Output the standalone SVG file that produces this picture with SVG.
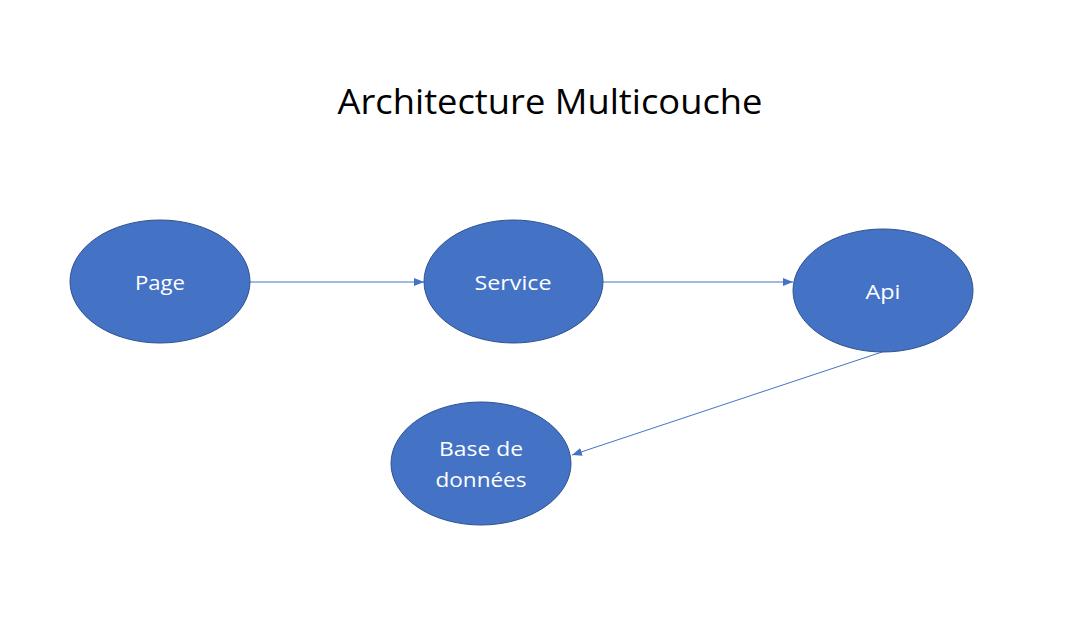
<svg xmlns="http://www.w3.org/2000/svg" width="1067" height="632" viewBox="0 0 1067 632">
<style>
.node ellipse{fill:#4472C4;stroke:#2F528F;stroke-width:1}
.node text{fill:#FFFFFF;font-family:"Open Sans","Liberation Sans",sans-serif;font-size:20px;text-anchor:middle}
.title{fill:#000000;font-family:"Open Sans","Liberation Sans",sans-serif;font-size:35px;text-anchor:middle}
.conn line{stroke:#4472C4;stroke-width:1;fill:none}
</style>
<defs>
<marker id="arrow" viewBox="0 0 10 8" refX="10" refY="4" markerWidth="10" markerHeight="8" markerUnits="userSpaceOnUse" orient="auto">
<path d="M0,0 L10,4 L0,8 Z" fill="#4472C4"/>
</marker>
</defs>
<rect width="1067" height="632" fill="#FFFFFF"/>
<text class="title" x="550" y="114" textLength="425" lengthAdjust="spacingAndGlyphs">Architecture Multicouche</text>
<g class="conn">
<line x1="250" y1="282" x2="424" y2="282" marker-end="url(#arrow)"/>
<line x1="603" y1="282" x2="793" y2="282" marker-end="url(#arrow)"/>
<line x1="882" y1="352" x2="572" y2="455" marker-end="url(#arrow)"/>
</g>
<g id="page" class="node">
<ellipse cx="160" cy="281.5" rx="90" ry="61.5"/>
<text x="160" y="290" textLength="50" lengthAdjust="spacingAndGlyphs">Page</text>
</g>
<g id="service" class="node">
<ellipse cx="513.5" cy="281.5" rx="89.5" ry="61.5"/>
<text x="513" y="290" textLength="77" lengthAdjust="spacingAndGlyphs">Service</text>
</g>
<g id="api" class="node">
<ellipse cx="883" cy="290.5" rx="90" ry="61.5"/>
<text x="883" y="299" textLength="35" lengthAdjust="spacingAndGlyphs">Api</text>
</g>
<g id="bdd" class="node">
<ellipse cx="481" cy="463.5" rx="90" ry="61.5"/>
<text x="481" y="456" textLength="84" lengthAdjust="spacingAndGlyphs">Base de</text>
<text x="481" y="487" textLength="91" lengthAdjust="spacingAndGlyphs">données</text>
</g>
</svg>
